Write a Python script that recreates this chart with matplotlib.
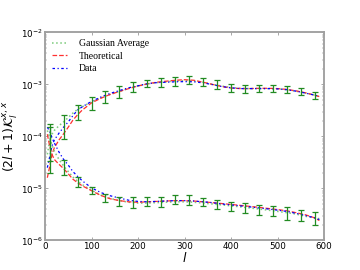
import matplotlib
matplotlib.use('Agg')
import matplotlib.pyplot as plt

# multipoles where the curves are sampled
ell = [5, 10, 15, 20, 30, 40, 50, 60, 70, 80, 100, 120, 140, 160, 180, 200, 220, 240, 260, 280,
       300, 320, 340, 360, 380, 400, 420, 440, 460, 480, 500, 520, 540, 560, 580, 590]

# rising branch
gauss_hi = [4.5e-5, 8e-5, 1.1e-4, 1.3e-4, 1.6e-4, 1.9e-4, 2.3e-4, 2.8e-4, 3.3e-4, 3.7e-4, 4.6e-4, 5.5e-4,
            6.4e-4, 7.3e-4, 8.4e-4, 9.3e-4, 1.02e-3, 1.08e-3, 1.12e-3, 1.16e-3, 1.18e-3, 1.16e-3, 1.1e-3,
            1.0e-3, 9.3e-4, 8.7e-4, 8.4e-4, 8.3e-4, 8.3e-4, 8.3e-4, 8.2e-4, 7.9e-4, 7.4e-4, 6.8e-4, 6.2e-4, 5.9e-4]
theo_hi = [1.6e-5, 2.6e-5, 4.5e-5, 6e-5, 8.5e-5, 1.12e-4, 1.5e-4, 2.05e-4, 2.6e-4, 3.2e-4, 4.4e-4, 5.4e-4,
           6.4e-4, 7.3e-4, 8.3e-4, 9.3e-4, 1.02e-3, 1.1e-3, 1.15e-3, 1.2e-3, 1.23e-3, 1.2e-3, 1.1e-3,
           1.0e-3, 9.1e-4, 8.5e-4, 8.3e-4, 8.3e-4, 8.4e-4, 8.4e-4, 8.3e-4, 8e-4, 7.5e-4, 6.9e-4, 6.2e-4, 5.8e-4]
data_hi = [2.5e-5, 4e-5, 6.5e-5, 8.5e-5, 1.15e-4, 1.5e-4, 1.9e-4, 2.5e-4, 3.2e-4, 3.7e-4, 4.7e-4, 5.7e-4,
           6.7e-4, 7.6e-4, 8.6e-4, 9.4e-4, 1.03e-3, 1.08e-3, 1.1e-3, 1.12e-3, 1.13e-3, 1.12e-3, 1.07e-3,
           9.9e-4, 9.1e-4, 8.6e-4, 8.3e-4, 8.3e-4, 8.3e-4, 8.3e-4, 8.2e-4, 7.9e-4, 7.4e-4, 6.8e-4, 6.2e-4, 5.9e-4]

# falling branch
gauss_lo = [1.3e-4, 9.5e-5, 6.8e-5, 5.2e-5, 3.6e-5, 2.7e-5, 2.1e-5, 1.65e-5, 1.38e-5, 1.18e-5, 9.2e-6, 7.4e-6,
            6.4e-6, 5.8e-6, 5.4e-6, 5.2e-6, 5.2e-6, 5.3e-6, 5.4e-6, 5.5e-6, 5.5e-6, 5.4e-6, 5.2e-6,
            5.0e-6, 4.8e-6, 4.6e-6, 4.4e-6, 4.2e-6, 4.0e-6, 3.8e-6, 3.6e-6, 3.4e-6, 3.2e-6, 2.9e-6, 2.7e-6, 2.6e-6]
theo_lo = [1.1e-4, 6.5e-5, 4.5e-5, 3.6e-5, 2.9e-5, 2.4e-5, 1.9e-5, 1.5e-5, 1.28e-5, 1.12e-5, 9.0e-6, 7.3e-6,
           6.3e-6, 5.8e-6, 5.5e-6, 5.4e-6, 5.5e-6, 5.6e-6, 5.7e-6, 5.8e-6, 5.8e-6, 5.7e-6, 5.5e-6,
           5.3e-6, 5.1e-6, 4.9e-6, 4.7e-6, 4.5e-6, 4.3e-6, 4.1e-6, 3.9e-6, 3.7e-6, 3.4e-6, 3.1e-6, 2.7e-6, 2.4e-6]
data_lo = [1.5e-4, 1.25e-4, 9.5e-5, 7.5e-5, 5e-5, 3.6e-5, 2.8e-5, 2.1e-5, 1.7e-5, 1.4e-5, 1.02e-5, 8.3e-6,
           7.2e-6, 6.5e-6, 5.9e-6, 5.6e-6, 5.5e-6, 5.6e-6, 5.7e-6, 5.8e-6, 5.8e-6, 5.7e-6, 5.5e-6,
           5.3e-6, 5.0e-6, 4.8e-6, 4.6e-6, 4.4e-6, 4.2e-6, 4.0e-6, 3.8e-6, 3.6e-6, 3.3e-6, 3.0e-6, 2.7e-6, 2.5e-6]

# error bars
ell_err = [10, 40, 70, 100, 130, 160, 190, 220, 250, 280, 310, 340, 370, 400, 430, 460, 490, 520, 550, 580]
err_hi_mid = [1.04e-4, 1.72e-4, 3.07e-4, 4.45e-4, 5.93e-4, 7.34e-4, 9.25e-4, 1.06e-3, 1.13e-3, 1.18e-3,
              1.24e-3, 1.15e-3, 1.0e-3, 8.55e-4, 8.2e-4, 8.35e-4, 8.35e-4, 8.0e-4, 7.35e-4, 6.2e-4]
err_hi_size = [7e-5, 8.4e-5, 1.0e-4, 1.29e-4, 1.48e-4, 1.84e-4, 2.1e-4, 1.8e-4, 2.2e-4, 2.3e-4,
               2.4e-4, 2.0e-4, 1.9e-4, 1.45e-4, 1.4e-4, 1.24e-4, 1.24e-4, 1.2e-4, 1.1e-4, 9.2e-5]
err_lo_mid = [8.5e-5, 2.63e-5, 1.36e-5, 9.1e-6, 6.6e-6, 5.7e-6, 5.5e-6, 5.7e-6, 5.6e-6, 6.2e-6,
              6.1e-6, 5.5e-6, 5.0e-6, 4.55e-6, 4.3e-6, 3.93e-6, 3.7e-6, 3.4e-6, 3.1e-6, 2.7e-6]
err_lo_size = [6.5e-5, 8.1e-6, 3.1e-6, 1.3e-6, 1.1e-6, 1.1e-6, 1.3e-6, 1.1e-6, 1.2e-6, 1.2e-6,
               1.3e-6, 1.0e-6, 1.0e-6, 9.5e-7, 9.8e-7, 9e-7, 7.8e-7, 8.9e-7, 7.9e-7, 7.3e-7]

fig, ax = plt.subplots(figsize=(8, 6), dpi=45)

green = '#7fcc7f'
red = '#ff3030'
ax.plot(ell, gauss_hi, ':', color=green, lw=2.5, label='Gaussian Average')
ax.plot(ell, theo_hi, '--', color=red, lw=2, label='Theoretical')
ax.plot(ell, data_hi, '-.', color='blue', lw=2, dashes=(2, 2, 1, 2), label='Data')
ax.plot(ell, gauss_lo, ':', color=green, lw=2.5)
ax.plot(ell, theo_lo, '--', color=red, lw=2)
ax.plot(ell, data_lo, '-.', color='blue', lw=2, dashes=(2, 2, 1, 2))

for mid, size in [(err_hi_mid, err_hi_size), (err_lo_mid, err_lo_size)]:
    eb = ax.errorbar(ell_err, mid, yerr=size, fmt='none', ecolor='#228b22', elinewidth=2, capsize=5, capthick=2)
    for cap in eb[1]:
        cap.set_color('#8fd08f')

ax.set_yscale('log')
ax.set_xlim(0, 600)
ax.set_ylim(1e-6, 1e-2)

for side in ax.spines.values():
    side.set_color('#a0a0a0')
    side.set_linewidth(3)
ax.tick_params(which='both', direction='in', top=True, right=True, color='#555555', labelsize=14)
ax.tick_params(which='major', length=5)
ax.tick_params(which='minor', length=2.5)

ax.set_xlabel('$l$', fontsize=20, labelpad=0)
ax.set_ylabel(r'$(2l+1)\mathcal{K}_l^{x,x}$', fontsize=20, labelpad=2)

ax.legend(loc='upper left', frameon=False, prop={'family': 'Liberation Serif', 'size': 15.5},
          handlelength=1.6, handletextpad=1.2, borderaxespad=0.3, labelspacing=0.35)

fig.savefig('out.png', dpi=45)
